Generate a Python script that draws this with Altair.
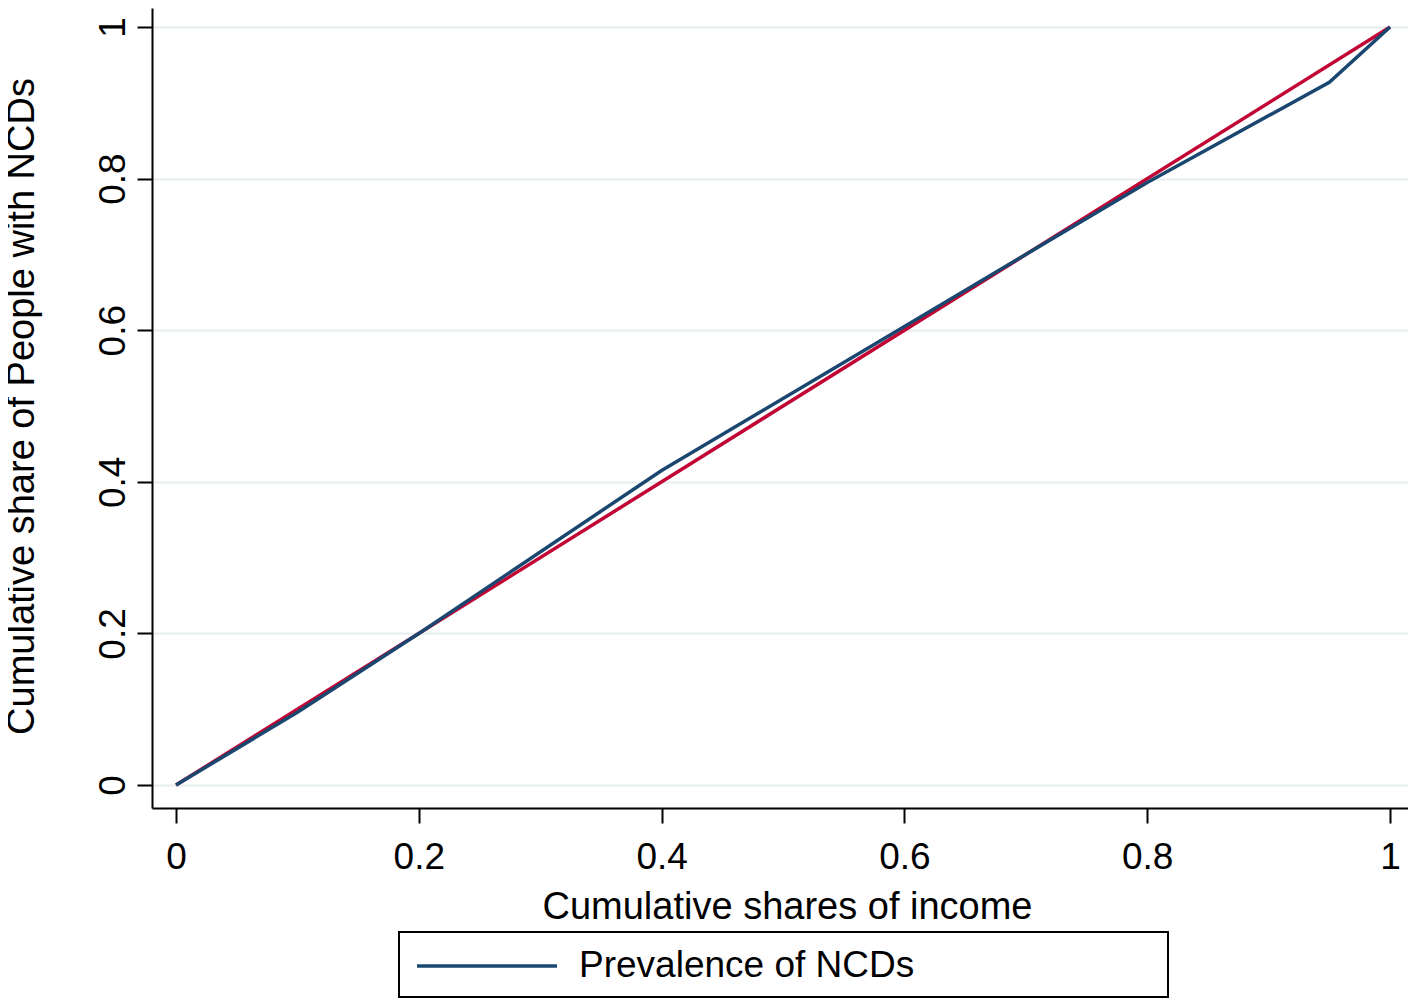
import altair as alt
import pandas as pd

# Concentration curve (navy)
income_share = [0.0, 0.1, 0.2, 0.4, 0.6, 0.8, 0.95, 1.0]
ncd_share = [0.0, 0.096, 0.2, 0.415, 0.605, 0.795, 0.927, 1.0]
# Line of equality (red)
equality_x = [0.0, 1.0]
equality_y = [0.0, 1.0]
x_ticks = [0, 0.2, 0.4, 0.6, 0.8, 1]
y_ticks = [0, 0.2, 0.4, 0.6, 0.8, 1]
series_name = "Prevalence of NCDs"

FONT = "Liberation Sans"
NAVY = "#1a476f"
RED = "#c10534"

curve_df = pd.DataFrame({"x": income_share, "y": ncd_share, "series": [series_name] * len(income_share)})
equal_df = pd.DataFrame({"x": equality_x, "y": equality_y})

x_scale = alt.Scale(domain=[-0.0198, 1.0148], nice=False, zero=False)
y_scale = alt.Scale(domain=[-0.0303, 1.0251], nice=False, zero=False)

x_axis = alt.Axis(
    values=x_ticks, grid=False, labelFontSize=37, labelFont=FONT, labelColor="black",
    labelBaseline="alphabetic", labelPadding=45, tickSize=15, tickWidth=2, tickColor="black",
    domainColor="black", domainWidth=2, labelExpr="format(datum.value, '~g')",
    title="Cumulative shares of income", titleFont=FONT, titleFontSize=38, titleFontWeight="normal",
    titleColor="black", titleBaseline="alphabetic", titleY=110, titleX=635, titleAlign="center",
)
y_axis = alt.Axis(
    values=y_ticks, grid=True, gridColor="#e6eef0", gridWidth=2,
    labelFontSize=37, labelFont=FONT, labelColor="black", labelAngle=270, labelAlign="center",
    labelBaseline="alphabetic", labelPadding=13, tickSize=15, tickWidth=2, tickColor="black",
    domainColor="black", domainWidth=2, labelExpr="format(datum.value, '~g')",
    title="Cumulative share of People with NCDs", titleFont=FONT, titleFontSize=38,
    titleFontWeight="normal", titleColor="black", titleAngle=270, titleBaseline="alphabetic",
    titleX=-119, titleY=398, titleAlign="center",
)

equality = alt.Chart(equal_df).mark_line(color=RED, strokeWidth=3.5).encode(
    x=alt.X("x:Q", scale=x_scale, axis=x_axis),
    y=alt.Y("y:Q", scale=y_scale, axis=y_axis),
)

curve = alt.Chart(curve_df).mark_line(strokeWidth=3.5).encode(
    x=alt.X("x:Q", scale=x_scale),
    y=alt.Y("y:Q", scale=y_scale),
    color=alt.Color(
        "series:N",
        scale=alt.Scale(domain=[series_name], range=[NAVY]),
        legend=alt.Legend(
            title=None, orient="none", legendX=263, legendY=940,
            symbolType="stroke", symbolSize=19600, symbolStrokeWidth=3.5,
            clipHeight=36, labelFontSize=37, labelFont=FONT, labelColor="black",
            labelOffset=20, labelLimit=0, padding=0,
        ),
    ),
)

box = alt.Chart(pd.DataFrame({"a": [0]})).mark_rect(
    filled=False, stroke="black", strokeWidth=2
).encode(
    x=alt.value(247), x2=alt.value(1016), y=alt.value(924), y2=alt.value(989)
)

chart = alt.layer(equality, curve, box).properties(
    width=1256, height=800,
    autosize=alt.AutoSizeParams(type="none"),
    padding={"left": 144, "top": 0, "right": 0, "bottom": 190},
    background="white",
).configure_view(stroke=None)

chart.save("out.html", embed_options={"renderer": "svg", "actions": False})
